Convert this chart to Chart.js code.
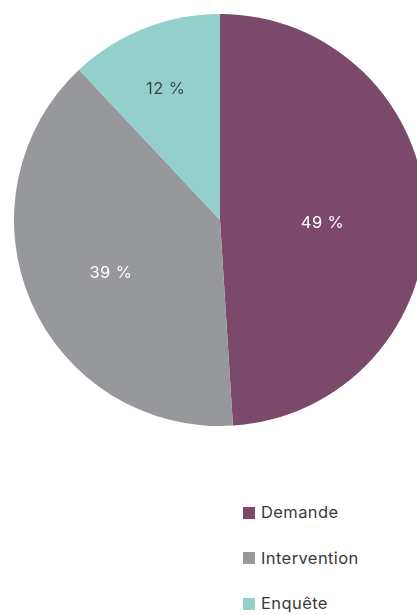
<!DOCTYPE html>
<html>
<head>
<meta charset="utf-8">
<script src="https://cdn.jsdelivr.net/npm/chart.js@4"></script>
<style>
html,body{margin:0;padding:0;width:417px;height:615px;overflow:hidden;background:#fff;font-family:Inter,"Noto Sans",sans-serif;}
#wrap{position:absolute;left:0;top:0;width:440px;height:440px;}
#legend{position:absolute;left:243px;top:490px;margin:0;padding:0;list-style:none;}
#legend li{height:45.5px;line-height:45.5px;font-size:16.5px;letter-spacing:0.4px;color:#3a3a3a;display:flex;align-items:center;}
#legend span.box{display:inline-block;width:12px;height:12px;margin-right:6px;}
</style>
</head>
<body>
<div id="wrap"><canvas id="c" width="440" height="440"></canvas></div>
<ul id="legend"></ul>
<script>
const categories = ["Demande", "Intervention", "Enquête"];
const values = [49, 39, 12];
const valueLabels = ["49 %", "39 %", "12 %"];
const colors = ["#7b4a6b", "#97989c", "#94d0cb"];
const labelColors = ["#ffffff", "#ffffff", "#444444"];

const labelPlugin = {
  id: 'sliceLabels',
  afterDatasetsDraw(chart) {
    const ctx = chart.ctx;
    const meta = chart.getDatasetMeta(0);
    ctx.save();
    ctx.font = '16.5px Inter, "Noto Sans", sans-serif';
    ctx.textAlign = 'center';
    ctx.textBaseline = 'middle';
    if ('letterSpacing' in ctx) ctx.letterSpacing = '0.4px';
    meta.data.forEach((arc, i) => {
      const p = arc.getProps(['x','y','startAngle','endAngle','outerRadius'], true);
      const half = (p.endAngle - p.startAngle) / 2;
      const mid = p.startAngle + half;
      const frac = (2 * Math.sin(half)) / (3 * half) + 0.065;
      const r = p.outerRadius * frac;
      ctx.fillStyle = labelColors[i];
      ctx.fillText(valueLabels[i], p.x + Math.cos(mid) * r, p.y + Math.sin(mid) * r + 6);
    });
    ctx.restore();
  }
};

new Chart(document.getElementById('c'), {
  type: 'pie',
  data: {
    labels: categories,
    datasets: [{ data: values, backgroundColor: colors, borderWidth: 0 }]
  },
  options: {
    responsive: false,
    animation: false,
    layout: { padding: 14 },
    plugins: { legend: { display: false }, tooltip: { enabled: false } }
  },
  plugins: [labelPlugin]
});

const legend = document.getElementById('legend');
categories.forEach((c, i) => {
  const li = document.createElement('li');
  const b = document.createElement('span');
  b.className = 'box';
  b.style.background = colors[i];
  li.appendChild(b);
  li.appendChild(document.createTextNode(c));
  legend.appendChild(li);
});
</script>
</body>
</html>
